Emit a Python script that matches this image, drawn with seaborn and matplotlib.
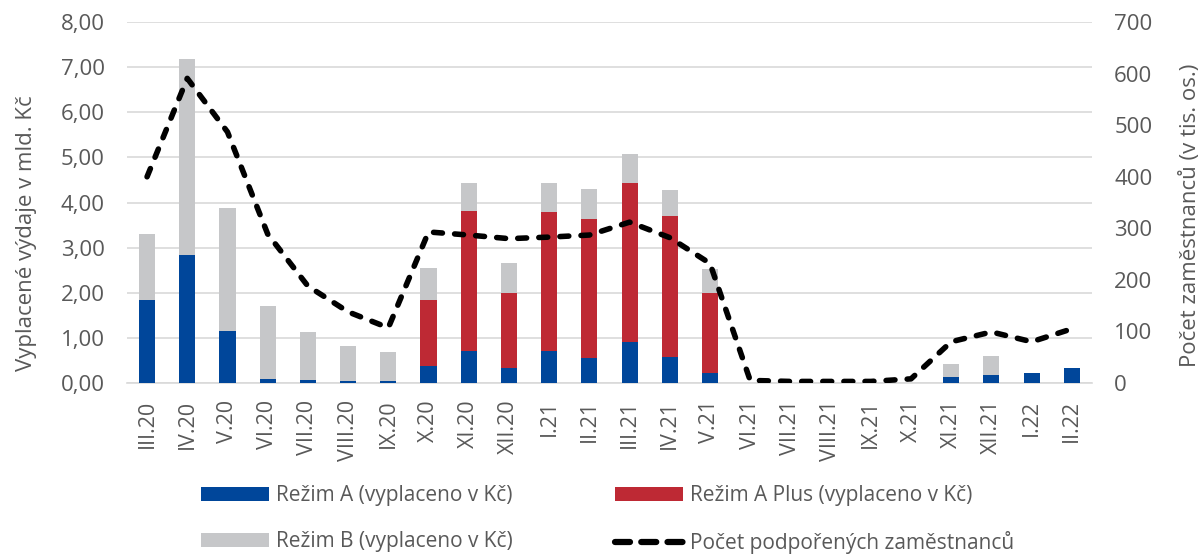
import numpy as np
import pandas as pd
import matplotlib
matplotlib.use("Agg")
import matplotlib.pyplot as plt
import seaborn as sns
from matplotlib.patches import Patch
from matplotlib.lines import Line2D

# === DATI ===
months = ['III.20', 'IV.20', 'V.20', 'VI.20', 'VII.20', 'VIII.20', 'IX.20', 'X.20',
          'XI.20', 'XII.20', 'I.21', 'II.21', 'III.21', 'IV.21', 'V.21', 'VI.21',
          'VII.21', 'VIII.21', 'IX.21', 'X.21', 'XI.21', 'XII.21', 'I.22', 'II.22']
rezim_a = [1.84, 2.84, 1.15, 0.08, 0.06, 0.05, 0.05, 0.37, 0.72, 0.33, 0.72, 0.55,
           0.90, 0.58, 0.23, 0, 0, 0, 0, 0, 0.14, 0.17, 0.22, 0.33]
rezim_a_plus = [0, 0, 0, 0, 0, 0, 0, 1.47, 3.09, 1.67, 3.08, 3.09,
                3.53, 3.12, 1.76, 0, 0, 0, 0, 0, 0, 0, 0, 0]
rezim_b = [1.46, 4.34, 2.73, 1.63, 1.07, 0.78, 0.63, 0.71, 0.62, 0.67, 0.64, 0.66,
           0.65, 0.57, 0.54, 0, 0, 0, 0, 0, 0.28, 0.43, 0, 0]
zamestnanci = [400, 591, 487, 289, 188, 138, 107, 293, 287, 280, 283, 287,
               312, 282, 232, 5, 3, 3, 3, 8, 80, 99, 80, 105]

df = pd.DataFrame({'Mesic': months, 'A': rezim_a, 'APlus': rezim_a_plus, 'B': rezim_b})
df['A_APlus'] = df['A'] + df['APlus']
df['Total'] = df['A_APlus'] + df['B']

# colori
c_blue = '#00469A'
c_red = '#BE2934'
c_grey = '#C6C7C9'
c_text = '#595959'
c_grid = '#D9D9D9'

sns.set_style('white')
plt.rcParams['font.family'] = ['Open Sans', 'DejaVu Sans']

fig, ax = plt.subplots(figsize=(12.01, 5.54), dpi=100)
fig.subplots_adjust(left=0.1057, right=0.9092, top=0.960, bottom=0.3087)

# barre impilate: totale, poi A + A Plus, poi A
sns.barplot(data=df, x='Mesic', y='Total', color=c_grey, width=0.4, ax=ax,
            saturation=1, edgecolor='none', zorder=2)
sns.barplot(data=df, x='Mesic', y='A_APlus', color=c_red, width=0.4, ax=ax,
            saturation=1, edgecolor='none', zorder=3)
sns.barplot(data=df, x='Mesic', y='A', color=c_blue, width=0.4, ax=ax,
            saturation=1, edgecolor='none', zorder=4)

ax.set_ylim(0, 8)
ax.set_xlim(-0.5, len(months) - 0.5)
ax.set_yticks(np.arange(0, 9, 1))
ax.set_yticklabels([f'{v:.2f}'.replace('.', ',') for v in range(0, 9)])
ax.yaxis.grid(True, color=c_grid, linewidth=1.2, zorder=0)
ax.set_axisbelow(True)
for s in ['top', 'left', 'right']:
    ax.spines[s].set_visible(False)
ax.spines['bottom'].set_color(c_grid)
ax.spines['bottom'].set_linewidth(1.2)

ax.set_xticks(np.arange(len(months)))
ax.set_xticklabels(months, rotation=90, va='top', ha='center')
ax.set_xticks(np.arange(-0.5, len(months), 1), minor=True)
ax.tick_params(axis='x', which='major', length=0, pad=12, labelsize=15.5, labelcolor=c_text)
ax.tick_params(axis='x', which='minor', length=7, color=c_grid, width=1.2)
ax.tick_params(axis='y', length=0, pad=16, labelsize=16, labelcolor=c_text)
ax.set_xlabel('')
ax.set_ylabel('Vyplacené výdaje v mld. Kč', fontsize=16, color=c_text)
ax.yaxis.set_label_coords(-0.104, 0.415)
ax.yaxis.label.set_va('center')

# linea sull'asse destro
ax2 = ax.twinx()
sns.lineplot(x=np.arange(len(months)), y=zamestnanci, ax=ax2, color='black',
             linewidth=4, dashes=False, zorder=5)
line = ax2.lines[0]
line.set_dashes((1.6, 2.2))
line.set_dash_capstyle('round')
ax2.set_ylim(0, 700)
ax2.set_yticks(np.arange(0, 800, 100))
ax2.grid(False)
for s in ['top', 'left', 'right', 'bottom']:
    ax2.spines[s].set_visible(False)
ax2.tick_params(axis='y', length=0, pad=16, labelsize=16, labelcolor=c_text)
ax2.set_ylabel('Počet zaměstnanců (v tis. os.)', fontsize=16, color=c_text)
ax2.yaxis.set_label_coords(1.102, 0.465)
ax2.yaxis.label.set_va('center')

# legenda
handles = [
    Patch(facecolor=c_blue, edgecolor='none', label='Režim A (vyplaceno v Kč)'),
    Patch(facecolor=c_grey, edgecolor='none', label='Režim B (vyplaceno v Kč)'),
    Patch(facecolor=c_red, edgecolor='none', label='Režim A Plus (vyplaceno v Kč)'),
    Line2D([0], [0], color='black', linewidth=4.5, dashes=(2.4, 1.8),
           dash_capstyle='round', label='Počet podpořených zaměstnanců'),
]
leg = fig.legend(handles=handles, ncol=2, loc='center', bbox_to_anchor=(0.506, 0.062),
                 frameon=False, fontsize=15, handlelength=3.27, handleheight=0.7,
                 handletextpad=0.34, columnspacing=4.9, labelspacing=1.2)
for t in leg.get_texts():
    t.set_color(c_text)

plt.savefig('out.png', dpi=100)
